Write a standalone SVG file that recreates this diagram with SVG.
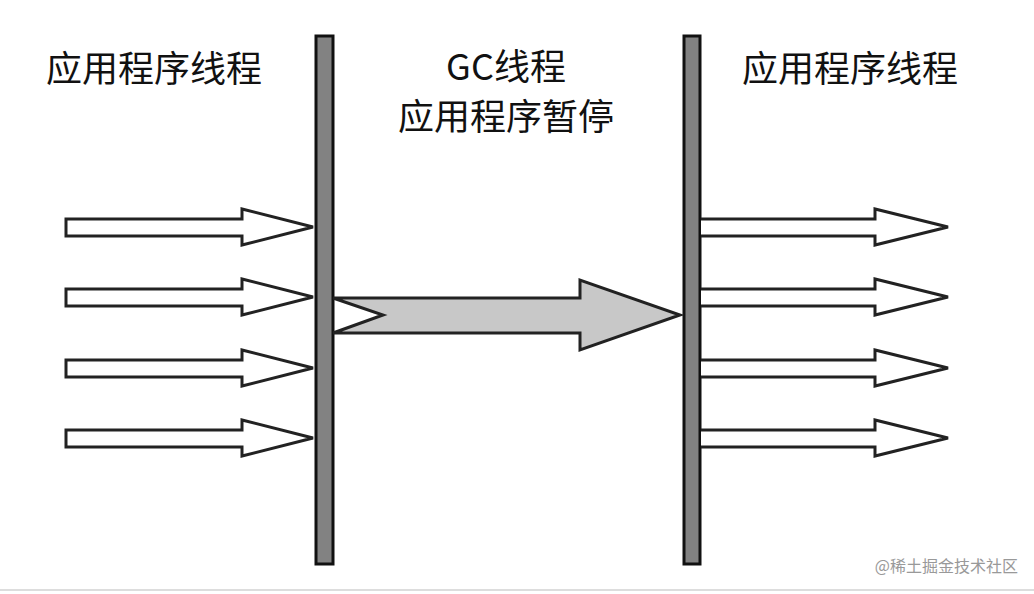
<svg xmlns="http://www.w3.org/2000/svg" width="1034" height="594" viewBox="0 0 1034 594">
<style>
.t{font-family:"Noto Sans CJK SC","Noto Sans",sans-serif;font-size:36px;fill:#111}
.bar{fill:#828282;stroke:#111;stroke-width:3}
.arr{fill:#fff;stroke:#222;stroke-width:3;stroke-linejoin:miter}
.gc{fill:#c8c8c8;stroke:#222;stroke-width:3}
</style>
<rect width="1034" height="594" fill="#fff"/>
<g id="title-left"><text class="t" x="46" y="82">应用程序线程</text></g>
<g id="title-mid"><text class="t" x="506" y="80" text-anchor="middle">GC线程</text><text class="t" x="506" y="130" text-anchor="middle">应用程序暂停</text></g>
<g id="title-right"><text class="t" x="742" y="82">应用程序线程</text></g>
<g id="bar-left"><rect class="bar" x="316" y="36" width="17" height="528"/></g>
<g id="bar-right"><rect class="bar" x="684" y="36" width="16" height="528"/></g>
<g id="connectors">
<path class="arr" d="M66,219 H242 V209 L313,227 L242,245 V236 H66 Z"/>
<path class="arr" d="M66,289 H242 V279 L313,297 L242,315 V306 H66 Z"/>
<path class="arr" d="M66,360 H242 V350 L313,368 L242,386 V377 H66 Z"/>
<path class="arr" d="M66,430 H242 V420 L313,438 L242,456 V447 H66 Z"/>
<path class="gc" d="M333,298 H580 V280 L680,315 L580,350 V333 H333 L383,315 Z"/>
<path class="arr" d="M701,219 H875 V209 L948,227 L875,245 V236 H701"/>
<path class="arr" d="M701,289 H875 V279 L948,297 L875,315 V306 H701"/>
<path class="arr" d="M701,360 H875 V350 L948,368 L875,386 V377 H701"/>
<path class="arr" d="M701,430 H875 V420 L948,438 L875,456 V447 H701"/>
</g>
<text x="1018" y="572" text-anchor="end" style="font-family:'Noto Sans CJK SC',sans-serif;font-size:16px;fill:#999">@稀土掘金技术社区</text>
<line x1="0" y1="590" x2="1034" y2="590" stroke="#ddd" stroke-width="2"/>
</svg>
